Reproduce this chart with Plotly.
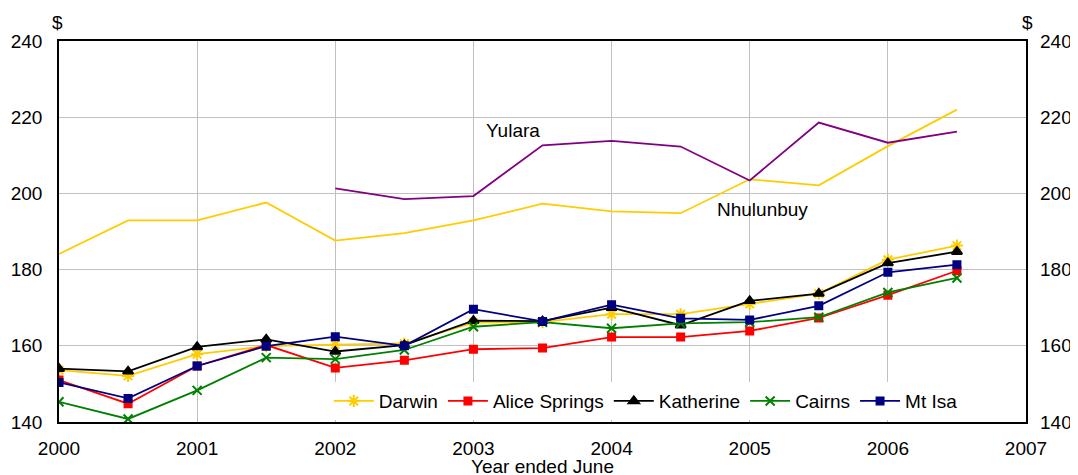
import plotly.graph_objects as go

years = [2000, 2000.5, 2001, 2001.5, 2002, 2002.5, 2003, 2003.5, 2004, 2004.5, 2005, 2005.5, 2006, 2006.5]

darwin = [153.6, 152.1, 157.8, 159.9, 160.3, 160.6, 166.1, 166.2, 168.3, 168.3, 171.0, 173.7, 182.6, 186.3]
alice_springs = [151.0, 144.8, 154.7, 160.2, 154.2, 156.2, 159.1, 159.4, 162.3, 162.3, 163.9, 167.3, 173.3, 179.7]
katherine = [154.0, 153.3, 159.7, 161.7, 158.5, 160.2, 166.6, 166.5, 170.0, 165.4, 171.8, 173.7, 181.7, 184.7]
cairns = [145.3, 140.8, 148.3, 156.9, 156.5, 158.9, 165.0, 166.2, 164.6, 165.9, 166.2, 167.5, 174.0, 177.8]
mt_isa = [150.4, 146.2, 154.7, 159.9, 162.4, 160.0, 169.6, 166.4, 170.8, 167.2, 166.8, 170.5, 179.3, 181.3]
nhulunbuy = [184.1, 192.9, 192.9, 197.6, 187.6, 189.6, 192.9, 197.3, 195.3, 194.8, 203.7, 202.1, 212.4, 222.0]
yulara = [None, None, None, None, 201.3, 198.5, 199.3, 212.6, 213.8, 212.3, 203.4, 218.6, 213.3, 216.2]

x_ticks = [2000, 2001, 2002, 2003, 2004, 2005, 2006, 2007]
y_ticks = [140, 160, 180, 200, 220, 240]

FONT = "Liberation Sans, Arial, sans-serif"
FS = 19

fig = go.Figure()

fig.add_trace(go.Scatter(x=years, y=nhulunbuy, mode="lines", name="Nhulunbuy",
                         line=dict(color="#FFCC00", width=1.8), showlegend=False))
fig.add_trace(go.Scatter(x=years, y=yulara, mode="lines", name="Yulara",
                         line=dict(color="#800080", width=1.8), showlegend=False))

series = [
    ("Darwin", darwin, "#FFCC00", "asterisk-open", 10),
    ("Alice Springs", alice_springs, "#FF0000", "square", 7),
    ("Katherine", katherine, "#000000", "triangle-up", 9),
    ("Cairns", cairns, "#008000", "x-thin-open", 9),
    ("Mt Isa", mt_isa, "#000080", "square", 7),
]
for name, vals, col, sym, sz in series:
    fig.add_trace(go.Scatter(
        x=years, y=vals, mode="lines+markers", name=name,
        line=dict(color=col, width=1.8),
        marker=dict(symbol=sym, size=sz, color=col, line=dict(color=col, width=2)),
    ))

# invisible trace to activate right axis
fig.add_trace(go.Scatter(x=[years[0]], y=[None], yaxis="y2", showlegend=False, hoverinfo="skip"))

fig.update_layout(
    width=1070, height=467,
    margin=dict(l=51, r=52, t=33, b=53, autoexpand=False),
    paper_bgcolor="white", plot_bgcolor="white",
    font=dict(family=FONT, size=FS, color="black"),
    xaxis=dict(range=[2000, 2007], tickvals=x_ticks, ticktext=[str(v) for v in x_ticks],
               showgrid=True, gridcolor="#C0C0C0", gridwidth=1, automargin=False,
               showline=True, linecolor="black", linewidth=1.5, mirror=True,
               ticks="", ticklabelstandoff=8, zeroline=False),
    yaxis=dict(range=[140, 240], tickvals=y_ticks, automargin=False,
               showgrid=True, gridcolor="#C0C0C0", gridwidth=1,
               showline=True, linecolor="black", linewidth=1.5, mirror=True,
               ticks="", ticklabelstandoff=11, zeroline=False),
    yaxis2=dict(range=[140, 240], tickvals=y_ticks, overlaying="y", side="right", automargin=False,
                showgrid=False, showline=False, ticks="", ticklabelstandoff=13, zeroline=False),
    legend=dict(orientation="h", x=0.279, y=0.005, xanchor="left", yanchor="bottom",
                bgcolor="white", font=dict(size=FS), itemwidth=40, tracegroupgap=0),
    annotations=[
        dict(text="$", x=0, y=1, xref="paper", yref="paper", xanchor="center", yanchor="bottom",
             yshift=6, xshift=-2, showarrow=False, font=dict(size=FS)),
        dict(text="$", x=1, y=1, xref="paper", yref="paper", xanchor="center", yanchor="bottom",
             yshift=6, xshift=1, showarrow=False, font=dict(size=FS)),
        dict(text="Year ended June", x=0.5, y=0, xref="paper", yref="paper", xanchor="center",
             yanchor="middle", yshift=-44, showarrow=False, font=dict(size=FS)),
        dict(text="Yulara", x=2003.29, y=216.5, xref="x", yref="y", xanchor="center", yanchor="middle",
             showarrow=False, font=dict(size=FS)),
        dict(text="Nhulunbuy", x=2005.09, y=195.7, xref="x", yref="y", xanchor="center", yanchor="middle",
             showarrow=False, font=dict(size=FS)),
    ],
)

fig.write_html("out.html")
